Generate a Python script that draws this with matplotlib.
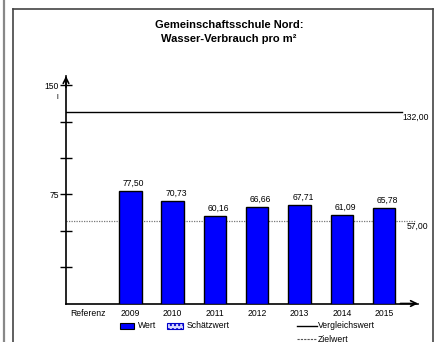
import matplotlib
matplotlib.use("Agg")
import matplotlib.pyplot as plt
from matplotlib.patches import Rectangle
from matplotlib.lines import Line2D

# data
categories = ["Referenz", "2009", "2010", "2011", "2012", "2013", "2014", "2015"]
values = [None, 77.50, 70.73, 60.16, 66.66, 67.71, 61.09, 65.78]
vergleichswert = 132.00
zielwert = 57.00
title = "Gemeinschaftsschule Nord:\nWasser-Verbrauch pro m²"
ytick_labels = {75: "75", 150: "150"}
legend_labels = ["Wert", "Schätzwert", "Vergleichswert", "Zielwert"]

plt.rcParams["font.family"] = ["Liberation Sans", "DejaVu Sans"]

W, H = 440, 342
fig = plt.figure(figsize=(W / 100, H / 100), dpi=100)
fig.patch.set_facecolor("white")


def fx(px):
    return px / W


def fy(py):
    return 1 - py / H


# outer frames
fig.add_artist(Line2D([fx(3.5), fx(3.5)], [0, 1], color="#888888", lw=1.6))
fig.add_artist(Line2D([fx(13), fx(13)], [0, fy(9)], color="#444444", lw=1.2))
fig.add_artist(Line2D([fx(13), fx(433)], [fy(9), fy(9)], color="#444444", lw=1.2))
fig.add_artist(Line2D([fx(433), fx(433)], [0, fy(9)], color="#444444", lw=1.2))

x0, x1 = 66, 418
y0, y1 = 303.5, 76
ax = fig.add_axes([fx(x0), fy(y0), fx(x1) - fx(x0), fy(y1) - fy(y0)])
ax.set_xlim(-0.52, 7.8)
ax.set_ylim(0, 156.5)
ax.patch.set_alpha(0)
for s in ["top", "right"]:
    ax.spines[s].set_visible(False)
for s in ["left", "bottom"]:
    ax.spines[s].set_linewidth(1.2)

xs = list(range(len(categories)))
bx = [x for x, v in zip(xs, values) if v is not None]
bv = [v for v in values if v is not None]
ax.bar(bx, bv, width=0.53, color="#0000ff", edgecolor="black", linewidth=1.0, zorder=3)
for x, v in zip(bx, bv):
    ax.annotate(f"{v:.2f}".replace(".", ","), (x + 0.08, v), xytext=(0, 2),
                textcoords="offset points", ha="center", va="bottom", fontsize=6.2)

# reference lines
ax.plot([-0.52, 7.42], [vergleichswert, vergleichswert], color="black", lw=1.0, zorder=2)
ax.text(7.43, vergleichswert - 1, f"{vergleichswert:.2f}".replace(".", ","),
        ha="left", va="top", fontsize=6.2, clip_on=False)
ax.plot([-0.52, 7.72], [zielwert, zielwert], color="#777777", lw=0.9, ls=(0, (1, 1)), zorder=2)
ax.text(7.52, zielwert - 1, f"{zielwert:.2f}".replace(".", ","),
        ha="left", va="top", fontsize=6.2, clip_on=False)

# axes
ax.set_xticks(xs)
ax.set_xticklabels(categories, fontsize=6.2)
ax.tick_params(axis="x", length=0, pad=4)
yt = [25, 50, 75, 100, 125, 150]
ax.set_yticks(yt)
ax.set_yticklabels([ytick_labels.get(t, "") for t in yt], fontsize=6.2)
ax.tick_params(axis="y", direction="inout", length=8, width=1.0, pad=1)
ax.text(-0.73, 141.8, "l", ha="center", va="center", fontsize=5.5, clip_on=False)
ax.annotate("", xy=(0, 1.0), xycoords="axes fraction", xytext=(0, 0.95),
            arrowprops=dict(arrowstyle="->", lw=1.2, color="black", shrinkA=0, shrinkB=0))
ax.annotate("", xy=(1.0, 0), xycoords="axes fraction", xytext=(0.95, 0),
            arrowprops=dict(arrowstyle="->", lw=1.2, color="black", shrinkA=0, shrinkB=0))

fig.text(fx(229), fy(32), title, ha="center", va="center", fontsize=8,
         fontweight="bold", linespacing=1.5)

# legend
ly1, ly2 = fy(326), fy(339)
fig.add_artist(Rectangle((fx(120), ly1 - 3 / H), 14 / W, 6 / H, facecolor="#0000ff",
                         edgecolor="black", lw=0.8))
fig.text(fx(138), ly1, legend_labels[0], ha="left", va="center", fontsize=6.2)
fig.add_artist(Rectangle((fx(167), ly1 - 3 / H), 16 / W, 6 / H, facecolor="#d8d8ff",
                         edgecolor="#0000cc", lw=0.8, hatch="...."))
fig.text(fx(187), ly1, legend_labels[1], ha="left", va="center", fontsize=6.2)
fig.add_artist(Line2D([fx(297), fx(317)], [ly1, ly1], color="black", lw=1.0))
fig.text(fx(318), ly1, legend_labels[2], ha="left", va="center", fontsize=6.2)
fig.add_artist(Line2D([fx(297), fx(317)], [ly2, ly2], color="#555555", lw=0.8, ls=(0, (2, 1))))
fig.text(fx(318), ly2, legend_labels[3], ha="left", va="center", fontsize=6.2)

fig.savefig("out.png", dpi=100)
